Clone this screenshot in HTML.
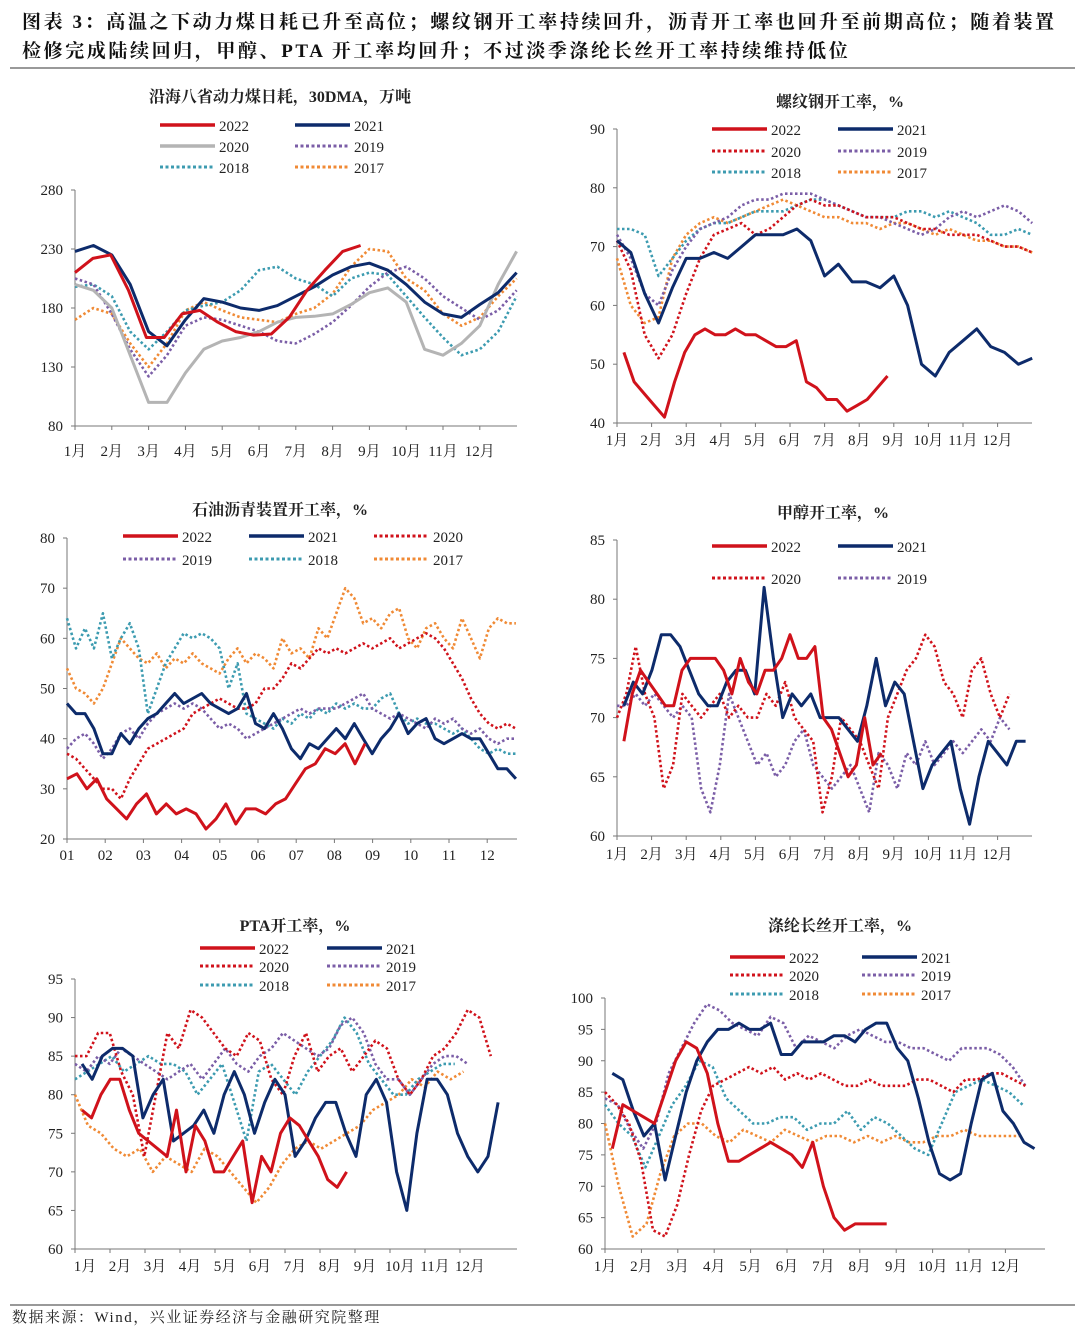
<!DOCTYPE html>
<html><head><meta charset="utf-8">
<style>
body{margin:0;background:#fff;width:1080px;height:1332px;overflow:hidden;font-family:"Liberation Serif","Noto Serif CJK SC",serif;}
#hdr{position:absolute;left:22px;top:8px;font-size:19px;font-weight:bold;line-height:29px;color:#111;font-family:"Liberation Serif","Noto Serif CJK SC",serif;letter-spacing:2.6px;white-space:nowrap}
#foot{position:absolute;left:12px;top:1306px;font-size:15px;color:#222;letter-spacing:1.5px}
svg{position:absolute;left:0;top:0}
</style></head><body>
<div id="hdr">图表 3：高温之下动力煤日耗已升至高位；螺纹钢开工率持续回升，沥青开工率也回升至前期高位；随着装置<br>检修完成陆续回归，甲醇、PTA 开工率均回升；不过淡季涤纶长丝开工率持续维持低位</div>
<div id="foot">数据来源：Wind，兴业证券经济与金融研究院整理</div>
<svg id="cv" width="1080" height="1332">
<line x1="10" y1="68" x2="1075" y2="68" stroke="#333" stroke-width="1"/>
<line x1="10" y1="1305" x2="1075" y2="1305" stroke="#333" stroke-width="1"/>
</svg>
<script>
// ---- Data ----
const months = ["1月","2月","3月","4月","5月","6月","7月","8月","9月","10月","11月","12月"];
const monthsNum = ["01","02","03","04","05","06","07","08","09","10","11","12"];
const years = ["2022","2021","2020","2019","2018","2017"];
// Panel 1: coal
const coal2022 = [210,222,225,195,155,155,175,178,168,160,157,158,172,195,212,228,233];
const coal2021 = [228,233,225,200,160,148,170,188,185,180,178,182,190,198,208,215,218,212,200,185,175,172,183,193,210];
const coal2020 = [200,195,180,140,100,100,125,145,152,155,160,168,172,173,175,183,193,197,185,145,140,150,165,200,228];
const coal2019 = [205,200,175,145,122,140,165,172,170,165,160,152,150,158,168,182,198,210,215,205,190,180,170,178,195];
const coal2018 = [198,200,190,160,145,160,178,182,185,195,212,215,205,200,190,205,210,208,190,172,155,140,145,160,190];
const coal2017 = [170,180,175,150,130,150,178,185,178,172,170,168,175,180,192,215,230,228,205,195,175,165,172,190,205];
// Panel 2: rebar
const rebar2022 = [52,47,45,43,41,47,52,55,56,55,55,56,55,55,54,53,53,54,47,46,44,44,42,43,44,46,48];
const rebar2021 = [71,69,62,57,63,68,68,69,68,70,72,72,72,73,71,65,67,64,64,63,65,60,50,48,52,54,56,53,52,50,51];
const rebar2020 = [71,66,55,51,55,62,68,72,73,74,72,73,75,77,78,77,77,76,75,75,75,74,73,73,72,72,72,71,70,70,69];
const rebar2019 = [72,68,62,60,66,70,73,74,75,77,78,78,79,79,79,78,77,76,75,75,74,73,72,73,75,76,75,76,77,76,74];
const rebar2018 = [73,73,72,65,68,71,73,74,74,75,76,76,76,77,78,78,77,76,75,75,75,76,76,75,76,75,74,72,72,73,72];
const rebar2017 = [68,60,57,58,68,72,74,75,74,75,76,77,78,77,76,75,75,74,74,73,74,74,73,72,73,72,71,71,70,70,69];
// Panel 3: asphalt
const asp2022 = [32,33,30,32,28,26,24,27,29,25,27,25,26,25,22,24,27,23,26,26,25,27,28,31,34,35,38,37,39,35,39];
const asp2021 = [47,45,45,42,37,37,41,39,42,44,45,47,49,47,48,49,47,46,45,46,49,43,42,45,42,38,36,39,38,40,42,40,43,40,37,40,42,45,41,43,44,40,39,40,41,40,40,37,34,34,32];
const asp2020 = [37,36,34,32,30,30,28,32,35,38,39,40,41,42,45,46,47,48,47,46,46,47,50,50,52,55,54,56,58,57,58,57,58,59,58,59,60,58,59,60,61,60,58,55,52,48,45,43,42,43,42];
const asp2019 = [38,40,41,39,36,38,41,42,40,43,45,46,47,46,47,46,44,42,43,42,40,41,42,43,44,45,46,45,46,46,46,47,48,49,46,45,44,45,44,43,42,44,43,44,42,41,42,40,39,40,40];
const asp2018 = [64,58,62,58,65,56,60,63,58,45,50,55,58,61,60,61,60,58,50,55,45,44,43,42,44,43,45,44,46,45,47,46,47,46,46,48,49,45,43,44,43,43,42,41,42,40,38,37,38,37,37];
const asp2017 = [54,50,49,47,50,55,60,58,56,55,57,54,56,55,57,55,54,53,56,58,55,57,56,54,60,57,58,56,62,60,65,70,68,63,64,62,65,66,60,58,62,63,60,58,64,60,56,62,64,63,63];
// Panel 4: methanol
const meth2022 = [68,72,74,73,72,71,71,74,75,75,75,75,74,72,75,73,72,74,74,75,77,75,75,76,70,69,67,65,66,70,66,67];
const meth2021 = [71,73,72,74,77,77,76,74,72,71,71,73,74,74,72,81,75,70,72,71,72,70,70,70,69,68,71,75,71,73,72,68,64,66,67,68,64,61,65,68,67,66,68,68];
const meth2020 = [70,72,76,72,70,64,66,72,71,70,71,72,70,71,70,70,72,71,73,70,69,68,62,65,70,69,68,66,64,70,72,74,75,77,76,73,72,70,74,75,72,70,72];
const meth2019 = [71,71,72,71,72,71,70,71,70,64,62,66,72,70,68,66,67,65,66,68,69,66,65,64,65,66,64,62,67,66,64,67,66,68,66,67,68,67,68,69,68,70,69];
// Panel 5: PTA
const pta2022 = [78,77,80,82,82,78,75,74,73,72,78,70,76,74,70,70,72,74,66,72,70,75,77,76,74,72,69,68,70];
const pta2021 = [84,82,85,86,86,85,77,80,82,74,75,76,78,75,80,83,80,75,79,82,80,72,74,77,79,79,75,72,80,82,79,70,65,75,82,82,80,75,72,70,72,79];
const pta2020 = [85,85,88,88,83,80,72,80,88,86,91,90,88,86,85,88,87,82,80,85,88,83,85,86,83,85,87,86,82,80,82,85,86,88,91,90,85];
const pta2019 = [84,83,85,84,86,85,84,83,82,83,84,82,84,86,84,83,85,86,88,87,86,85,86,89,90,88,84,82,82,80,82,84,85,85,84];
const pta2018 = [82,83,84,85,83,84,85,84,84,83,80,82,84,79,74,83,84,82,80,83,85,87,90,88,84,82,80,80,82,83,84,84];
const pta2017 = [80,76,75,73,72,73,70,72,71,70,73,72,70,68,66,68,71,73,74,73,74,75,76,78,79,80,82,81,83,82,83];
// Panel 6: polyester filament
const pf2022 = [76,83,82,81,80,85,90,93,92,88,80,74,74,75,76,77,76,75,73,77,70,65,63,64,64,64,64];
const pf2021 = [88,87,82,78,80,71,78,85,90,93,95,95,96,95,95,96,91,91,93,93,93,94,94,93,95,96,96,92,90,84,77,72,71,72,80,87,88,82,80,77,76];
const pf2020 = [85,83,80,74,63,62,67,75,82,86,87,88,89,88,89,87,88,87,88,87,86,86,87,86,86,86,87,87,86,85,87,87,88,88,87,86];
const pf2019 = [84,83,79,76,80,88,92,96,99,98,96,95,94,97,96,92,94,93,92,94,95,94,93,93,92,92,91,90,92,92,92,91,89,86];
const pf2018 = [83,80,78,73,78,83,86,90,89,84,82,80,80,81,81,79,80,80,82,79,81,80,78,76,75,80,85,86,87,86,85,83];
const pf2017 = [80,70,62,64,72,78,80,80,78,77,79,78,77,79,78,77,78,78,77,78,77,78,77,77,78,78,79,78,78,78,78];

const STY = {
 "2022":{c:"#d0121b",d:null},
 "2021":{c:"#0d2b6b",d:null},
 "2020":{c:"#d0121b",d:"2.5 2.5"},
 "2020g":{c:"#b4b4b4",d:null},
 "2019":{c:"#7b5ea7",d:"2.5 2.5"},
 "2018":{c:"#3c9bb0",d:"2.5 2.5"},
 "2017":{c:"#f08a35",d:"2.5 2.5"}
};
const NS="http://www.w3.org/2000/svg";
const svg=document.getElementById('cv');
function mk(tag,attrs,parent){const e=document.createElementNS(NS,tag);for(const k in attrs)e.setAttribute(k,attrs[k]);(parent||svg).appendChild(e);return e;}
function txt(x,y,s,anchor,size,parent,weight){const t=mk('text',{x:x,y:y,'text-anchor':anchor||'middle','font-size':size||15,fill:'#222','font-family':'"Liberation Serif","Noto Serif CJK SC",serif'},parent);if(weight)t.setAttribute('font-weight',weight);t.textContent=s;return t;}

function chart(cfg){
 const g=mk('g',{});
 
 
 const X=t=>cfg.x0+t*cfg.mw;
 const Y=v=>cfg.yb-(v-cfg.ymin)/(cfg.ymax-cfg.ymin)*(cfg.yb-cfg.yt);
 const tt=txt(cfg.tx,cfg.ty,cfg.title,'middle',16,g,'bold');
 
 
 const ya=mk('line',{x1:cfg.x0,y1:cfg.yt,x2:cfg.x0,y2:cfg.yb,stroke:'#777','stroke-width':1},g);
 
 
 const xa=mk('line',{x1:cfg.x0,y1:cfg.yb,x2:cfg.x1,y2:cfg.yb,stroke:'#777','stroke-width':1},g);
 
 
 for(let v=cfg.ymin;v<=cfg.ymax;v+=cfg.ystep){
  mk('line',{x1:cfg.x0-4,y1:Y(v),x2:cfg.x0,y2:Y(v),stroke:'#777'},g);
  const l=txt(cfg.x0-12,Y(v)+5,String(v),'end',15,g);
  
  
 }
 cfg.xl.forEach((m,i)=>{
  mk('line',{x1:X(i),y1:cfg.yb,x2:X(i),y2:cfg.yb+4,stroke:'#777'},g);
  const l=txt(X(i)+cfg.lo,cfg.yb+30-(cfg.lg||0),m,'middle',15,g);
  
  
 });
 cfg.series.slice().reverse().forEach(s=>{
  const st=STY[s.k];
  const pts=s.v.map((v,i)=>X(s.t0+i*s.st).toFixed(1)+','+Y(v).toFixed(1)).join(' ');
  const p=mk('polyline',{points:pts,fill:'none',stroke:st.c,'stroke-width':st.d?2.6:3,'stroke-linejoin':'round'},g);
  if(st.d)p.setAttribute('stroke-dasharray',st.d);
  
  
 });
 cfg.leg.forEach(L=>{
  const st=STY[L.k];
  const lg=mk('g',{},g);
  
  
  const ln=mk('line',{x1:L.x,y1:L.y,x2:L.x+55,y2:L.y,stroke:st.c,'stroke-width':st.d?3:3.5},lg);
  if(st.d)ln.setAttribute('stroke-dasharray','3 2.5');
  txt(L.x+59,L.y+6,L.k.slice(0,4),'start',15,lg);
 });
}
function legGrid(cols,rows,keys){const out=[];let i=0;rows.forEach(y=>cols.forEach(x=>{if(i<keys.length)out.push({k:keys[i++],x:x,y:y});}));return out;}

chart({name:'coal-consumption-chart',title:'沿海八省动力煤日耗，30DMA，万吨',tx:280,ty:102,x0:75,x1:517,mw:36.8,yt:190,yb:426,ymin:80,ymax:280,ystep:50,xl:months,lo:0,
 series:[{k:'2022',v:coal2022,t0:0,st:0.485},{k:'2021',v:coal2021,t0:0,st:0.5},{k:'2020g',v:coal2020,t0:0,st:0.5},{k:'2019',v:coal2019,t0:0,st:0.5},{k:'2018',v:coal2018,t0:0,st:0.5},{k:'2017',v:coal2017,t0:0,st:0.5}],
 leg:legGrid([160,295],[125,146,167],['2022','2021','2020g','2019','2018','2017'])});
chart({name:'rebar-utilization-chart',title:'螺纹钢开工率，%',tx:840,ty:107,x0:617,x1:1032,mw:34.6,yt:129,yb:423,ymin:40,ymax:90,ystep:10,xl:months,lo:0,lg:8,
 series:[{k:'2022',v:rebar2022,t0:0.2,st:0.293},{k:'2021',v:rebar2021,t0:0,st:0.4},{k:'2020',v:rebar2020,t0:0,st:0.4},{k:'2019',v:rebar2019,t0:0,st:0.4},{k:'2018',v:rebar2018,t0:0,st:0.4},{k:'2017',v:rebar2017,t0:0,st:0.4}],
 leg:legGrid([712,838],[129,151,172],['2022','2021','2020','2019','2018','2017'])});
chart({name:'asphalt-utilization-chart',title:'石油沥青装置开工率，%',tx:280,ty:515,x0:67,x1:517,mw:38.2,yt:538,yb:839,ymin:20,ymax:80,ystep:10,xl:monthsNum,lo:0,lg:9,
 series:[{k:'2022',v:asp2022,t0:0,st:0.26},{k:'2021',v:asp2021,t0:0,st:0.235},{k:'2020',v:asp2020,t0:0,st:0.235},{k:'2019',v:asp2019,t0:0,st:0.235},{k:'2018',v:asp2018,t0:0,st:0.235},{k:'2017',v:asp2017,t0:0,st:0.235}],
 leg:legGrid([123,249,374],[536,559],['2022','2021','2020','2019','2018','2017'])});
chart({name:'methanol-utilization-chart',title:'甲醇开工率，%',tx:833,ty:518,x0:617,x1:1032,mw:34.6,yt:540,yb:836,ymin:60,ymax:85,ystep:5,xl:months,lo:0,lg:7,
 series:[{k:'2022',v:meth2022,t0:0.2,st:0.24},{k:'2021',v:meth2021,t0:0.2,st:0.27},{k:'2020',v:meth2020,t0:0,st:0.27},{k:'2019',v:meth2019,t0:0,st:0.27}],
 leg:legGrid([712,838],[546,578],['2022','2021','2020','2019'])});
chart({name:'pta-utilization-chart',title:'PTA开工率，%',tx:295,ty:931,x0:75,x1:517,mw:35,yt:979,yb:1249,ymin:60,ymax:95,ystep:5,xl:months,lo:10,lg:8,
 series:[{k:'2022',v:pta2022,t0:0.2,st:0.27},{k:'2021',v:pta2021,t0:0.2,st:0.29},{k:'2020',v:pta2020,t0:0,st:0.33},{k:'2019',v:pta2019,t0:0,st:0.33},{k:'2018',v:pta2018,t0:0,st:0.35},{k:'2017',v:pta2017,t0:0,st:0.37}],
 leg:legGrid([200,327],[948,966,985],['2022','2021','2020','2019','2018','2017'])});
chart({name:'polyester-filament-chart',title:'涤纶长丝开工率，%',tx:840,ty:931,x0:605,x1:1045,mw:36.4,yt:998,yb:1249,ymin:60,ymax:100,ystep:5,xl:months,lo:0,lg:8,
 series:[{k:'2022',v:pf2022,t0:0.2,st:0.29},{k:'2021',v:pf2021,t0:0.2,st:0.29},{k:'2020',v:pf2020,t0:0,st:0.33},{k:'2019',v:pf2019,t0:0,st:0.35},{k:'2018',v:pf2018,t0:0,st:0.37},{k:'2017',v:pf2017,t0:0,st:0.38}],
 leg:legGrid([730,862],[957,975,994],['2022','2021','2020','2019','2018','2017'])});
</script>
</body></html>
